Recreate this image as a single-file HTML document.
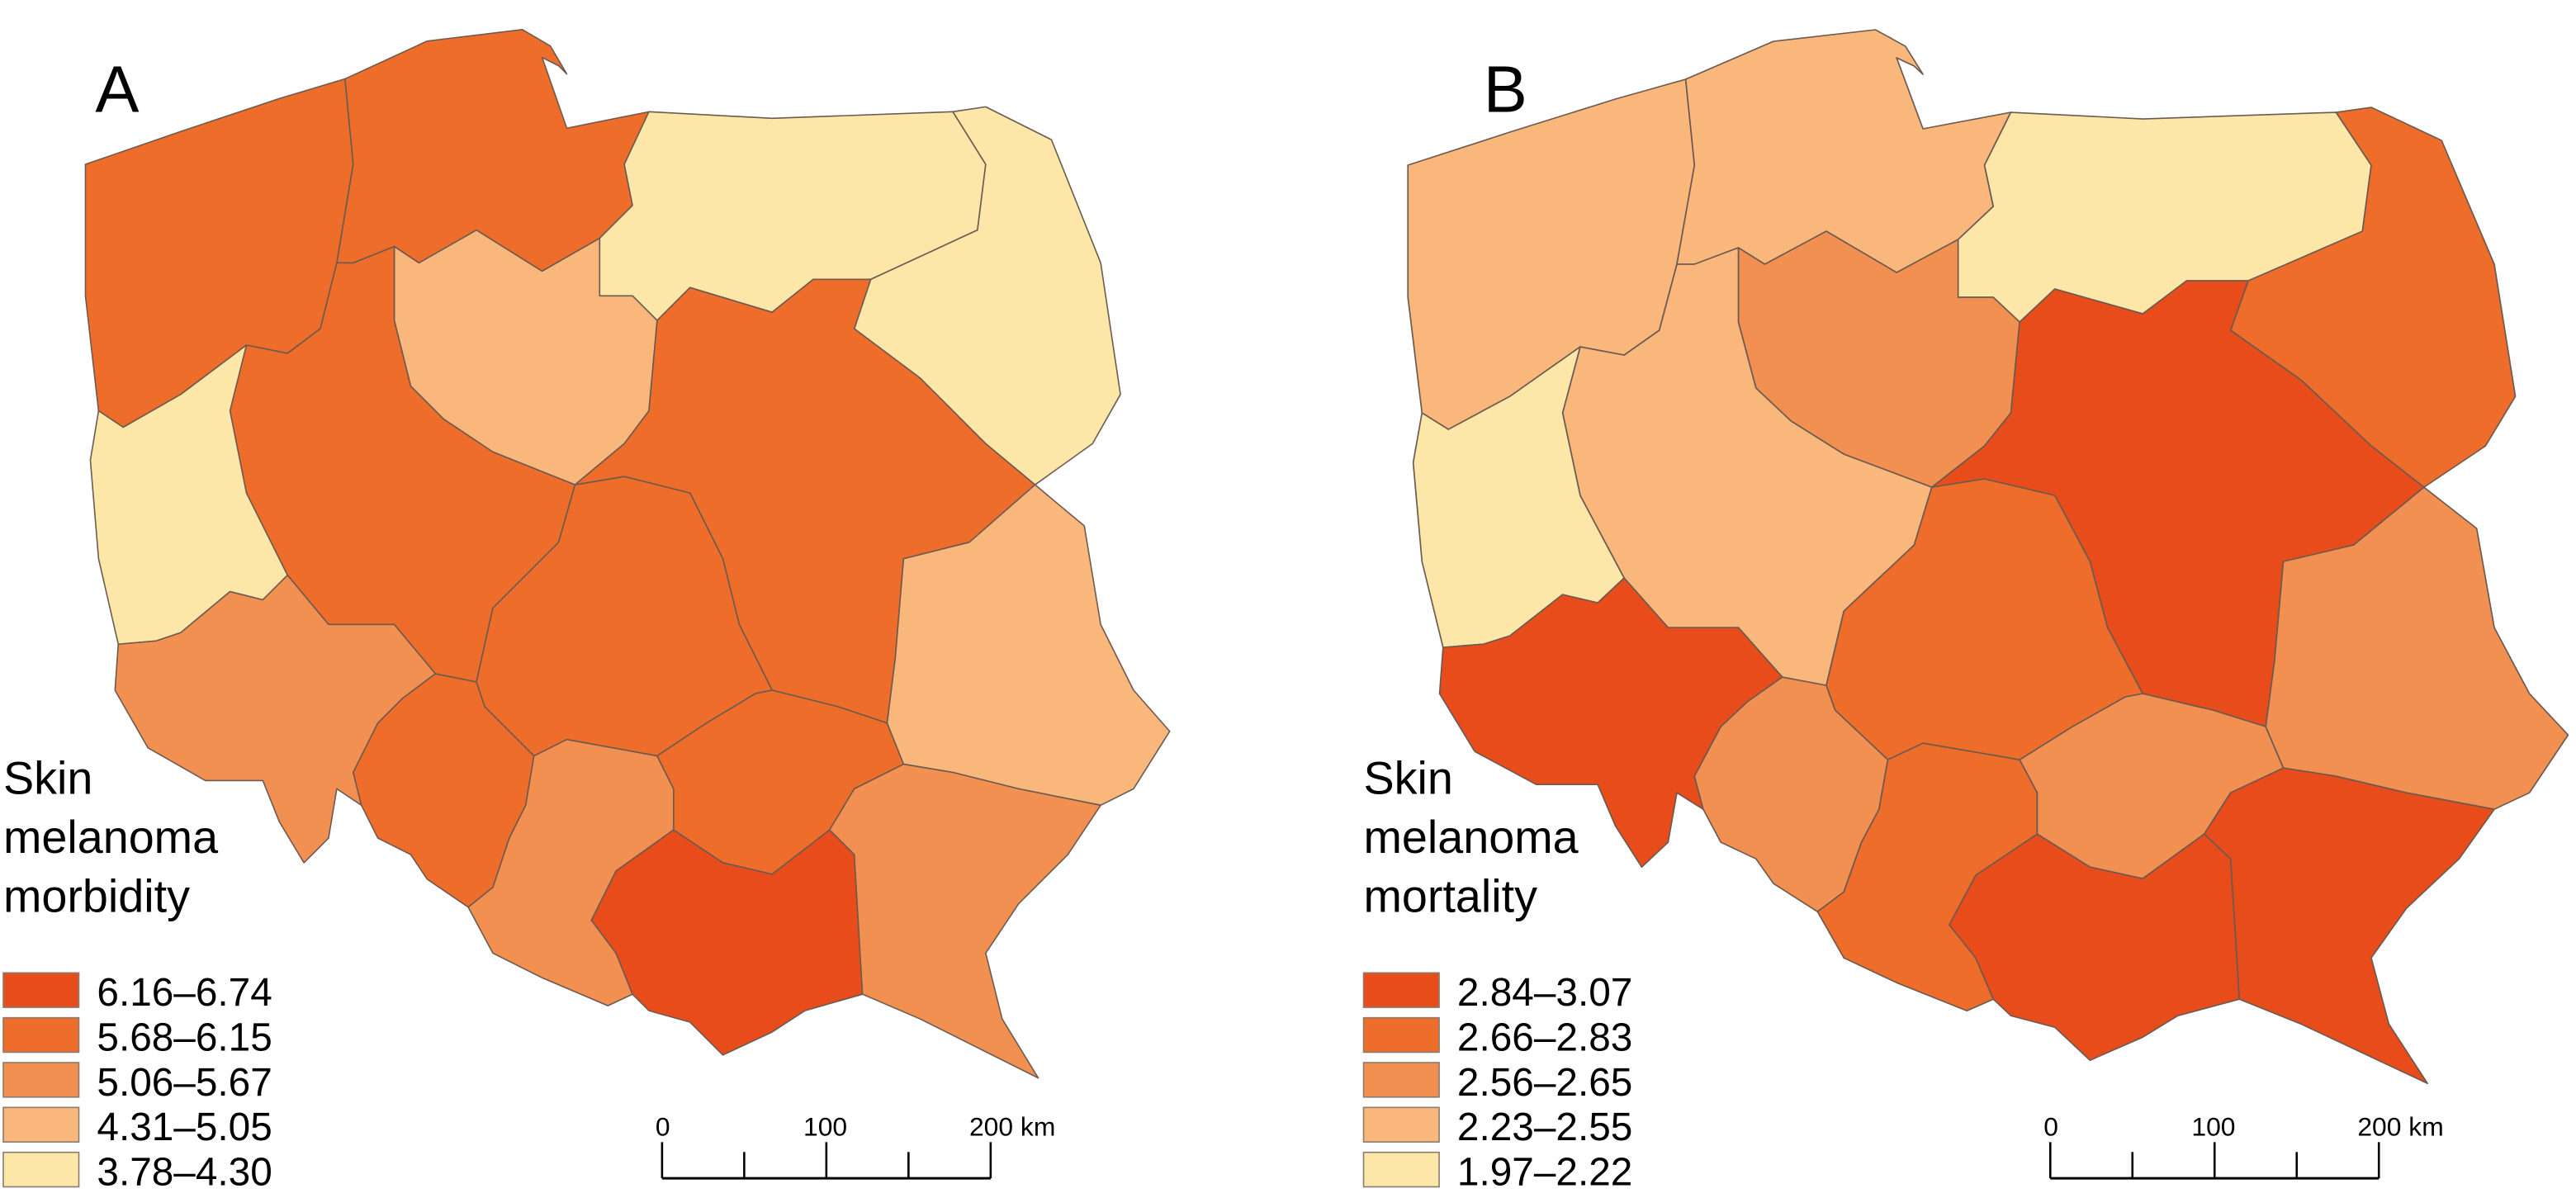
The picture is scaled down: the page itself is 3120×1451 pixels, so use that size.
<!DOCTYPE html>
<html><head><meta charset="utf-8"><style>
html,body{margin:0;padding:0;background:#fff;}
svg{display:block;font-family:"Liberation Sans",Arial,sans-serif;}
</style></head><body>
<svg id="chart" width="3120" height="1451" viewBox="0 0 1568 729" preserveAspectRatio="none" xmlns="http://www.w3.org/2000/svg">
<rect width="1568" height="729" fill="#fff"/>
<g id="panelA"></g>
<g id="panelB" transform="translate(857,0) scale(1.07,1.005) translate(-52,0)"></g>
<text x="58" y="68" font-size="40">A</text>
<text x="903" y="68" font-size="40">B</text>
<g id="legendA"></g>
<g id="legendB"></g>
<g id="scaleA"></g>
<g id="scaleB"></g>
</svg>
<script>
const regions = ["zachodniopomorskie","pomorskie","warminsko-mazurskie","podlaskie","kujawsko-pomorskie","mazowieckie","wielkopolskie","lubuskie","dolnoslaskie","lodzkie","opolskie","slaskie","swietokrzyskie","malopolskie","lubelskie","podkarpackie"];
const morbidity = [5.9,5.9,4.0,4.0,4.7,5.9,5.9,4.0,5.4,5.9,5.9,5.4,5.9,6.5,4.7,5.4];
const mortality = [2.4,2.4,2.1,2.75,2.6,2.95,2.4,2.1,2.95,2.75,2.6,2.75,2.6,2.95,2.6,2.95];
const morbidityBreaks = [3.78,4.31,5.06,5.68,6.16,6.74];
const mortalityBreaks = [1.97,2.23,2.56,2.66,2.84,3.07];
const morbidityLabels = ["6.16–6.74","5.68–6.15","5.06–5.67","4.31–5.05","3.78–4.30"];
const mortalityLabels = ["2.84–3.07","2.66–2.83","2.56–2.65","2.23–2.55","1.97–2.22"];
const classColors = ["#FDE7A8","#F9B77C","#F29052","#EE6D2A","#E84C1A"];
const shapes = [
"52,100 110,80 170,60 210,48 215,100 205,160 195,200 175,215 150,210 110,240 75,260 60,250 52,180",
"210,48 260,25 318,18 335,28 345,45 340,40 330,35 345,78 395,68 380,100 385,125 365,145 330,165 290,140 255,160 240,150 215,160 205,160 215,100",
"395,68 470,72 580,68 600,100 595,140 530,170 495,170 470,190 420,175 400,195 385,180 365,180 365,145 385,125 380,100",
"580,68 600,65 640,85 670,160 682,240 665,270 630,295 600,270 560,230 520,200 530,170 595,140 600,100",
"255,160 290,140 330,165 365,145 365,180 385,180 400,195 395,250 380,270 350,295 300,275 270,255 250,235 240,195 240,150",
"400,195 420,175 470,190 495,170 530,170 520,200 560,230 600,270 630,295 590,330 550,340 545,400 540,440 510,430 470,420 450,380 440,340 420,300 380,290 350,295 380,270 395,250",
"150,210 175,215 195,200 205,160 215,160 240,150 240,195 250,235 270,255 300,275 350,295 340,330 320,350 300,370 290,415 265,410 240,380 200,380 175,350 150,300 140,250",
"60,250 75,260 110,240 150,210 140,250 150,300 175,350 160,365 140,360 110,385 95,390 72,392 60,340 55,280",
"72,392 95,390 110,385 140,360 160,365 175,350 200,380 240,380 265,410 245,425 230,440 215,470 220,490 205,480 200,510 185,525 170,500 160,475 125,475 90,455 70,420",
"350,295 380,290 420,300 440,340 450,380 470,420 460,422 430,440 400,460 345,450 325,460 295,430 290,415 300,370 320,350 340,330",
"265,410 290,415 295,430 325,460 320,490 310,510 300,540 285,552 260,535 250,520 230,510 220,490 215,470 230,440 245,425",
"325,460 345,450 400,460 410,480 410,505 375,530 360,560 375,580 385,605 370,612 330,595 300,580 285,552 300,540 310,510 320,490",
"400,460 430,440 460,422 470,420 510,430 540,440 550,465 520,480 505,505 470,532 440,525 410,505 410,480",
"375,530 410,505 440,525 470,532 505,505 520,520 525,605 490,615 470,628 440,642 420,622 395,615 385,605 375,580 360,560",
"550,340 590,330 630,295 660,320 670,380 690,420 712,445 690,480 670,490 620,480 580,470 550,465 540,440 545,400",
"505,505 520,480 550,465 580,470 620,480 670,490 650,520 620,550 600,580 610,620 632,656 600,640 560,620 525,605 520,520"
];
const NS="http://www.w3.org/2000/svg";
function classOf(v,breaks){for(let i=breaks.length-2;i>=0;i--){if(v>=breaks[i])return i;}return 0;}
function drawMap(gid,vals,breaks,prefix){
  const g=document.getElementById(gid);
  regions.forEach((r,i)=>{
    const p=document.createElementNS(NS,"polygon");
    p.setAttribute("points",shapes[i]);
    p.setAttribute("fill",classColors[classOf(vals[i],breaks)]);
    p.setAttribute("stroke","#6b5a50");
    p.setAttribute("stroke-width","0.8");
    p.setAttribute("stroke-linejoin","round");
    
    
    g.appendChild(p);
  });
}
drawMap("panelA",morbidity,morbidityBreaks,"morbidity");
drawMap("panelB",mortality,mortalityBreaks,"mortality");
function drawLegend(gid,x0,titleLines,labels){
  const g=document.getElementById(gid);
  titleLines.forEach((t,i)=>{
    const e=document.createElementNS(NS,"text");
    e.setAttribute("x",x0);e.setAttribute("y",483+i*36);e.setAttribute("font-size","28");
    e.textContent=t;
    
    
    g.appendChild(e);
  });
  labels.forEach((l,i)=>{
    const y=592+i*27.3;
    const r=document.createElementNS(NS,"rect");
    r.setAttribute("x",x0);r.setAttribute("y",y);r.setAttribute("width",46);r.setAttribute("height",21);
    r.setAttribute("fill",classColors[4-i]);r.setAttribute("stroke","#8a7a70");r.setAttribute("stroke-width","0.8");
    
    
    g.appendChild(r);
    const t=document.createElementNS(NS,"text");
    t.setAttribute("x",x0+57);t.setAttribute("y",y+20);t.setAttribute("font-size","24");
    t.textContent=l;
    
    
    g.appendChild(t);
  });
}
drawLegend("legendA",2,["Skin","melanoma","morbidity"],morbidityLabels);
drawLegend("legendB",830,["Skin","melanoma","mortality"],mortalityLabels);
const scaleTicks=[0,50,100,150,200];
const scaleLabels=["0","100","200 km"];
function drawScale(gid,x0){
  const g=document.getElementById(gid);
  const y=717;
  const ln=document.createElementNS(NS,"line");
  ln.setAttribute("x1",x0);ln.setAttribute("x2",x0+200);ln.setAttribute("y1",y);ln.setAttribute("y2",y);
  ln.setAttribute("stroke","#000");ln.setAttribute("stroke-width","1.5");
  
  
  g.appendChild(ln);
  scaleTicks.forEach((k,i)=>{
    const t=document.createElementNS(NS,"line");
    const h=(i%2==0)?22:16;
    t.setAttribute("x1",x0+k);t.setAttribute("x2",x0+k);t.setAttribute("y1",y-h);t.setAttribute("y2",y);
    t.setAttribute("stroke","#000");t.setAttribute("stroke-width","1.3");
    
    
    g.appendChild(t);
  });
  const xs=[x0-4,x0+86,x0+187];
  scaleLabels.forEach((s,i)=>{
    const t=document.createElementNS(NS,"text");
    t.setAttribute("x",xs[i]);t.setAttribute("y",y-26);t.setAttribute("font-size","16");
    t.textContent=s;
    
    
    g.appendChild(t);
  });
}
drawScale("scaleA",403);
drawScale("scaleB",1248);
</script>
</body></html>
